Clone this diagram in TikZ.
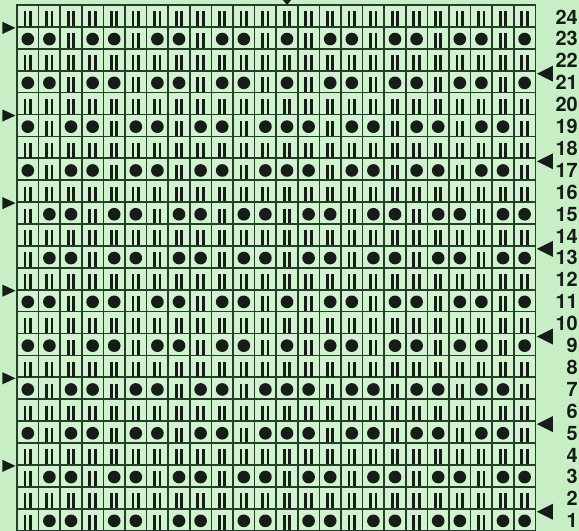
\documentclass[tikz,border=0pt]{standalone}
\usepackage{fontspec}
\setmainfont{TeX Gyre Heros}
\usetikzlibrary{positioning}
\definecolor{paper}{RGB}{200,238,198}
\definecolor{square}{RGB}{210,243,208}
\definecolor{rule}{RGB}{36,62,42}
\definecolor{ink}{RGB}{22,28,24}

% one stitch per square: kn = two strokes, pu = dot
\tikzset{
  pics/kn/.style={code={\draw[stitch] (-2.8,-4.5) -- (-2.8,10.2) (2.6,-4.5) -- (2.6,10.2);}},
  pics/pu/.style={code={\fill[ink] (0,1.2) circle[radius=0.19cm];}}
}
\def\rowA{pu,pu,kn,pu,pu,kn,pu,pu,kn,pu,pu,kn,pu,kn,pu,pu,kn,pu,pu,kn,pu,pu,kn,pu}
\def\rowB{pu,kn,pu,pu,kn,pu,pu,kn,pu,pu,kn,pu,pu,pu,kn,pu,pu,kn,pu,pu,kn,pu,pu,kn}
\def\rowC{kn,pu,pu,kn,pu,pu,kn,pu,pu,kn,pu,pu,kn,pu,pu,kn,pu,pu,kn,pu,pu,kn,pu,pu}

\begin{document}
\begin{tikzpicture}[x=0.03cm,y=-0.03cm,
     cell/.style={draw=rule,fill=square,line width=1.5pt,minimum width=0.648cm,minimum height=0.657cm,
                  inner sep=0pt,outer sep=0pt},
     rowno/.style={font=\bfseries\fontsize{17}{17}\selectfont,anchor=east,inner sep=0pt,text=ink},
     stitch/.style={draw=ink,line width=2.5pt},
     marker/.style={fill=ink}]
  \useasboundingbox (0,0) rectangle (579,531);
  \fill[paper] (0,0) rectangle (579,531);
  % the grid, row 24 on top
  \foreach \r in {1,...,24}{
    \foreach \c in {1,...,24}
      \node[cell] (s\r-\c) at ({17+21.6*(\c-0.5)},{5+21.9*(24.5-\r)}) {};
    \node[rowno] (n\r) at (578,{6+21.9*(24.5-\r)}) {\r};
  }
  % stitches
  \foreach \r in {2,4,...,24}
    \foreach \c in {1,...,24} \pic at (s\r-\c) {kn};
  \foreach \r in {23,21,11,9}
    \foreach \s [count=\c] in \rowA \pic at (s\r-\c) {\s};
  \foreach \r in {19,17,7,5}
    \foreach \s [count=\c] in \rowB \pic at (s\r-\c) {\s};
  \foreach \r in {15,13,3,1}
    \foreach \s [count=\c] in \rowC \pic at (s\r-\c) {\s};
  % markers
  \foreach \r in {23,19,15,11,7,3}
    \fill[marker] (s\r-1.north west) ++(-1.5,1) -- ++(-13,-6) -- ++(0,12) -- cycle;
  \foreach \r in {21,17,13,9,5,1}
    \fill[marker] (s\r-24.north east) ++(1.5,3) -- ++(16,-8) -- ++(0,16) -- cycle;
  \fill[marker] (s24-13.north) -- ++(-5,-6) -- ++(10,0) -- cycle;
\end{tikzpicture}
\end{document}
